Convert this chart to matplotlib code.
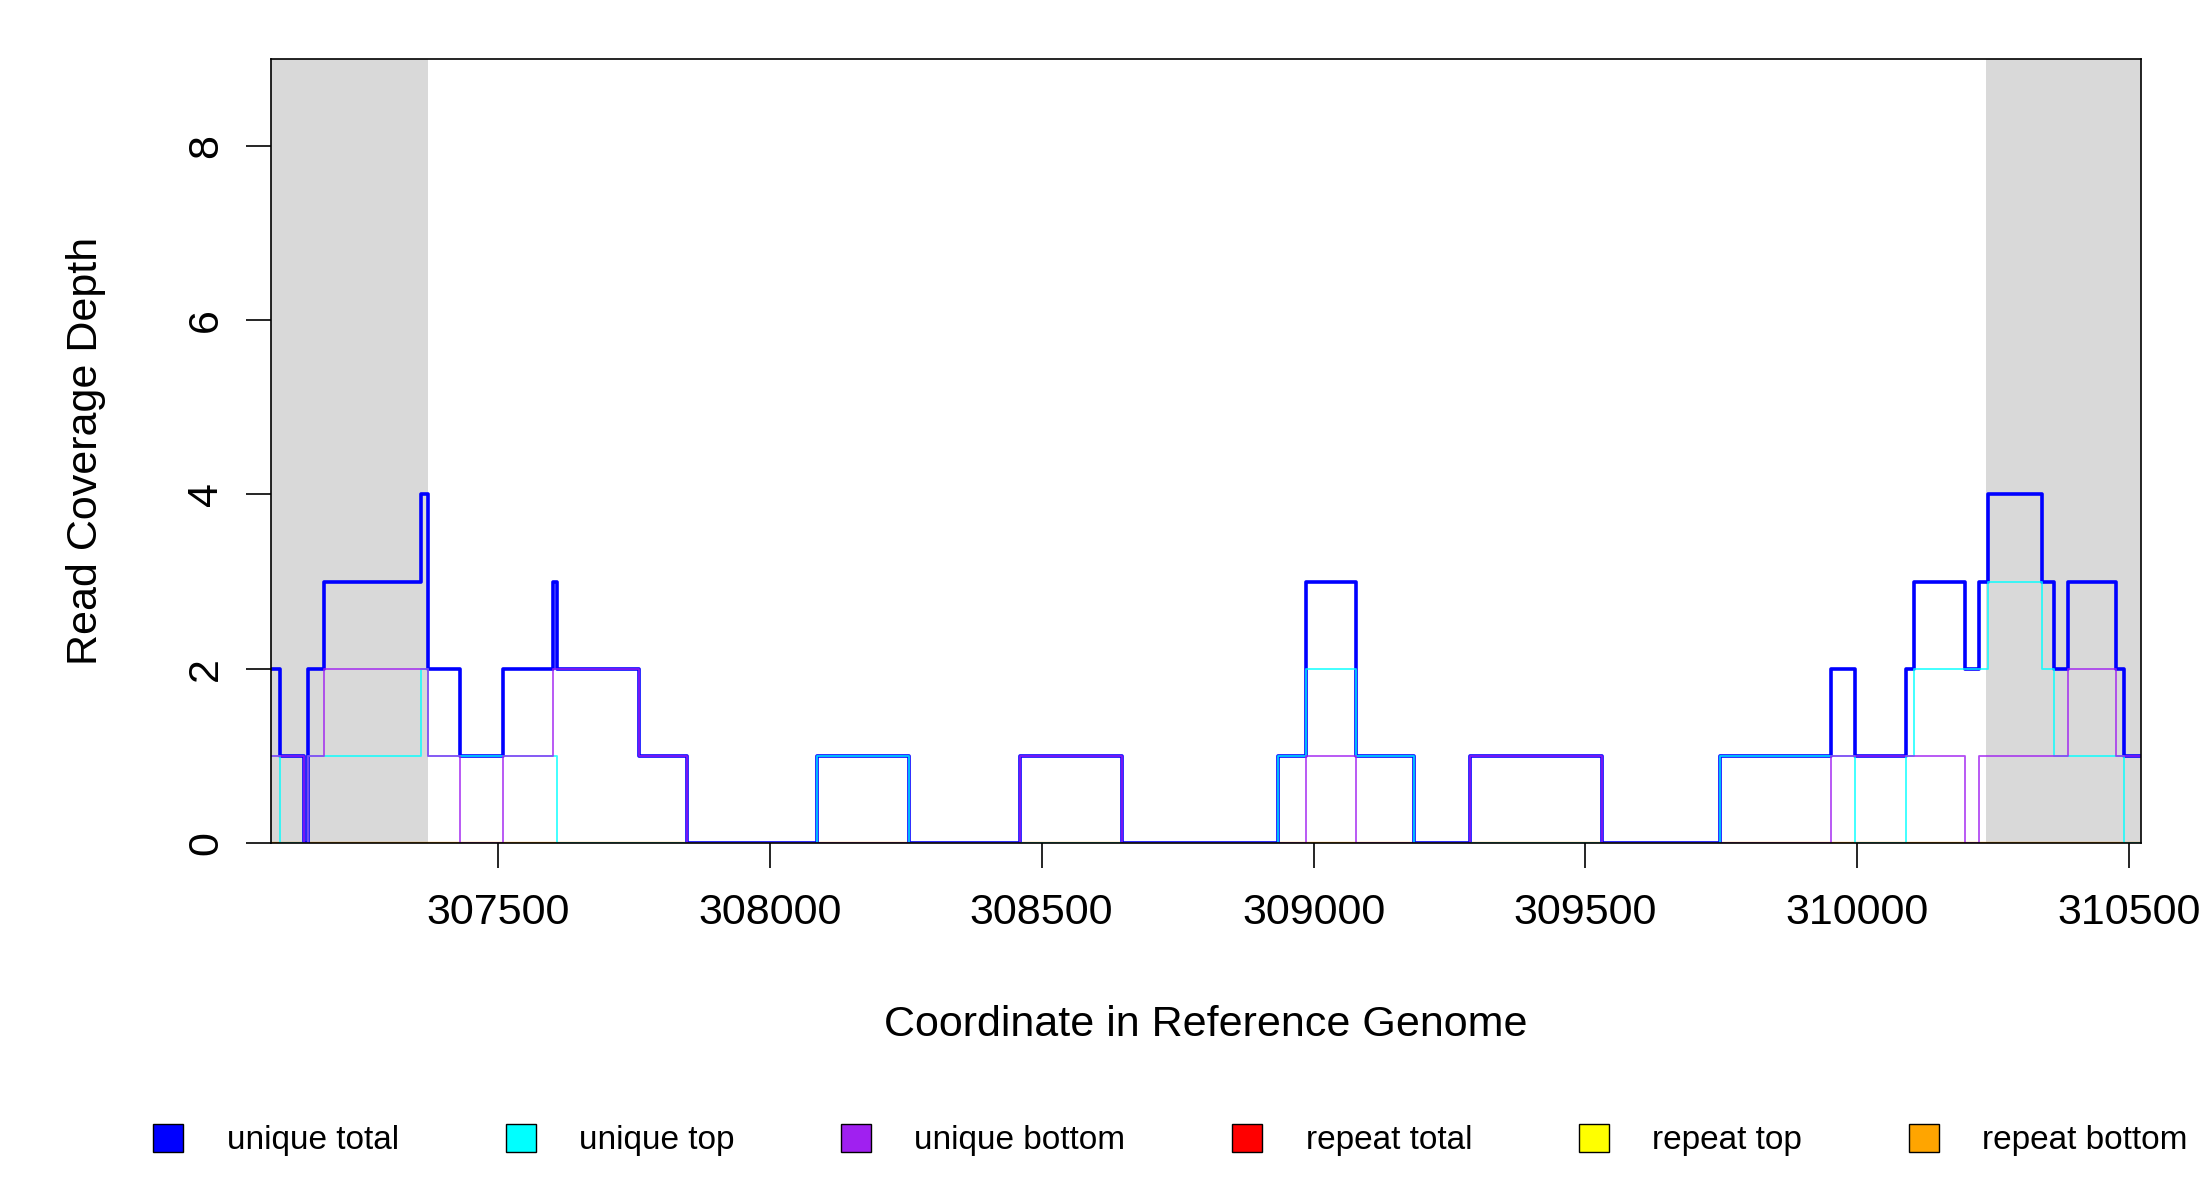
import numpy as np
import matplotlib.pyplot as plt

plt.rcParams['font.family'] = ['Liberation Sans', 'DejaVu Sans']

# step boundaries (start of each segment) and coverage values
total_x = [307082, 307099, 307144, 307150, 307180, 307359, 307371, 307430, 307510, 307601,
           307608, 307760, 307848, 308086, 308256, 308460, 308648, 308934, 308986, 309079,
           309185, 309288, 309530, 309747, 309951, 309995, 310090, 310105, 310198, 310224,
           310240, 310340, 310361, 310387, 310475, 310490, 310521]
total_y = [2, 1, 0, 2, 3, 4, 2, 1, 2, 3,
           2, 1, 0, 1, 0, 1, 0, 1, 3, 1,
           0, 1, 0, 1, 2, 1, 2, 3, 2, 3,
           4, 3, 2, 3, 2, 1, 1]

top_x = [307082, 307099, 307150, 307359, 307371, 307608, 308086, 308256, 308934, 308986,
         309079, 309185, 309747, 309995, 310090, 310105, 310240, 310340, 310361, 310490, 310521]
top_y = [1, 0, 1, 2, 1, 0, 1, 0, 1, 2,
         1, 0, 1, 0, 1, 2, 3, 2, 1, 0, 0]

bot_x = [307082, 307144, 307150, 307180, 307371, 307430, 307510, 307601, 307760, 307848,
         308460, 308648, 308986, 309079, 309288, 309530, 309951, 310198, 310224, 310387,
         310475, 310521]
bot_y = [1, 0, 1, 2, 1, 0, 1, 2, 1, 0,
         1, 0, 1, 0, 1, 0, 1, 0, 1, 2,
         1, 1]

repeat_x = [307082, 310521]
repeat_y = [0, 0]

shade_left = (307082, 307371)
shade_right = (310237, 310521)

labels = ['unique total', 'unique top', 'unique bottom', 'repeat total', 'repeat top', 'repeat bottom']
legend_colors = ['blue', 'cyan', '#a020f0', 'red', 'yellow', 'orange']

fig = plt.figure(figsize=(22, 12), dpi=100)
ax = fig.add_axes([0.123, 0.2975, 0.850, 0.6535])

ax.axvspan(*shade_left, color='#d9d9d9', lw=0)
ax.axvspan(*shade_right, color='#d9d9d9', lw=0)

ax.step(repeat_x, repeat_y, where='post', color='red', lw=1.5)
ax.step(repeat_x, repeat_y, where='post', color='yellow', lw=1.5)
ax.step(repeat_x, repeat_y, where='post', color='orange', lw=1.5)
ax.step(total_x, total_y, where='post', color='blue', lw=2.6)
ax.step(top_x, top_y, where='post', color='cyan', lw=1.3, alpha=0.8)
ax.step(bot_x, bot_y, where='post', color='#a020f0', lw=1.3, alpha=0.8)

ax.set_xlim(307082, 310521)
ax.set_ylim(0, 9)
ax.set_xticks([307500, 308000, 308500, 309000, 309500, 310000, 310500])
ax.set_yticks([0, 2, 4, 6, 8])
ax.tick_params(axis='both', labelsize=31, length=18, width=1.2, direction='out')
ax.tick_params(axis='x', pad=18)
ax.tick_params(axis='y', pad=14)
for lab in ax.get_yticklabels():
    lab.set_rotation(90)
    lab.set_va('center')
for s in ax.spines.values():
    s.set_linewidth(1.2)

ax.set_xlabel('Coordinate in Reference Genome', fontsize=31, labelpad=52)
ax.set_ylabel('Read Coverage Depth', fontsize=31, labelpad=58)

handles = [plt.Rectangle((0, 0), 1, 1, facecolor=c, edgecolor='black', lw=1) for c in legend_colors]
fig.legend(handles, labels, loc='center', bbox_to_anchor=(0.532, 0.05), ncol=6, frameon=False,
           fontsize=24, handlelength=0.9, handleheight=0.9, columnspacing=3.2, handletextpad=1.3)

fig.savefig('out.png', dpi=100)
